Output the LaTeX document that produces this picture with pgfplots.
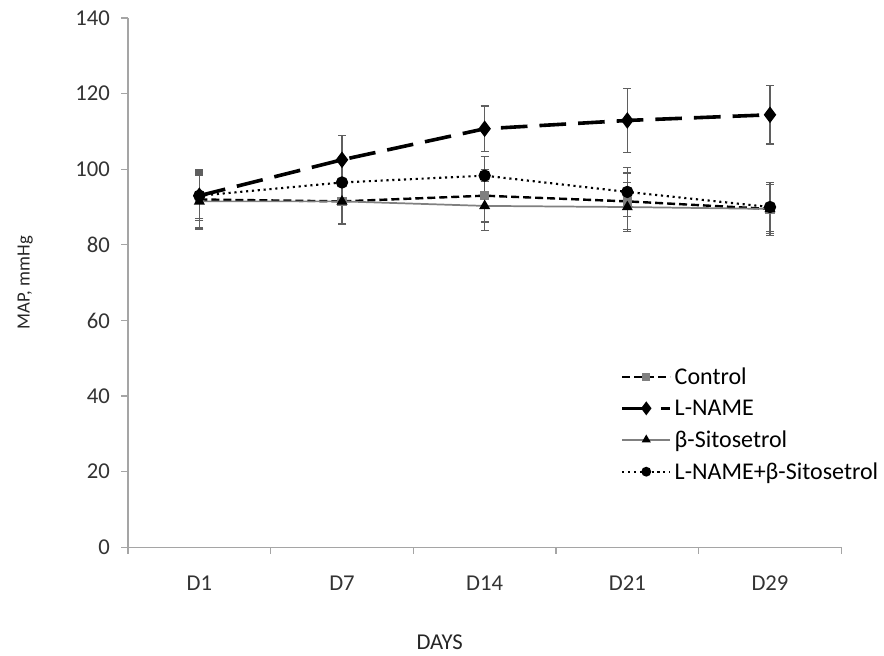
\documentclass[border=0pt]{standalone}
\usepackage{fontspec}
\setmainfont{Carlito}
\usepackage{pgfplots}
\pgfplotsset{compat=1.18}

\definecolor{axgray}{RGB}{165,165,165}
\definecolor{ctrlgray}{RGB}{128,128,128}
\definecolor{errgray}{RGB}{95,95,95}

\begin{document}
\begin{tikzpicture}[x=1pt,y=1pt]
\begin{axis}[
  scale only axis,
  width=535pt, height=397pt,
  xmin=-0.5, xmax=4.5,
  ymin=0, ymax=140,
  ytick={0,20,...,140},
  xtick={0,1,2,3,4},
  xticklabels={D1,D7,D14,D21,D29},
  major x tick style={draw=none},
  minor xtick={-0.5,0.5,1.5,2.5,3.5,4.5},
  minor tick length=5pt,
  major tick length=5pt,
  tick align=outside,
  axis lines*=left,
  axis line style={axgray, line width=0.9pt},
  every tick/.style={axgray, line width=0.9pt},
  tick label style={font=\fontsize{17}{20}\selectfont, text=black!80},
  /pgf/number format/assume math mode=true,
  xticklabel style={anchor=center, inner sep=0pt},
  xticklabel shift=22pt,
  yticklabel style={xshift=-5pt},
  xlabel={DAYS},
  ylabel={MAP, mmHg},
  xlabel style={at={(axis description cs:0.437,-0.179)}, anchor=center,
    font=\fontsize{17}{20}\selectfont, text=black!85},
  ylabel style={at={(axis description cs:-0.144,0.5)}, anchor=center,
    font=\fontsize{14}{17}\selectfont, text=black!85},
  legend style={draw=none, fill=none, at={(0.69,0.345)}, anchor=north west,
    inner sep=0pt,
    font=\fontsize{18}{21}\selectfont, row sep=6pt,
    /tikz/every even column/.append style={column sep=0pt}},
  legend cell align=left,
  legend image code/.code={\draw[mark repeat=2,mark phase=2,
      every mark/.append style={scale=0.75}]
    plot coordinates {(0pt,0pt) (18pt,0pt) (36pt,0pt)};},
  error bars/y dir=both, error bars/y explicit,
  error bars/error bar style={errgray, line width=0.8pt, solid},
  error bars/error mark options={rotate=90, mark size=3pt, errgray, line width=1pt, solid},
  clip=false,
]
% Control
\addplot[black, dash pattern=on 6pt off 3pt, line width=1.8pt,
  mark=square*, mark size=2.6pt, mark options={solid, fill=ctrlgray, draw=ctrlgray}]
  coordinates {(0,92.0) +- (0,8.0) (1,91.5) +- (0,6.0) (2,93.0) +- (0,7.0) (3,91.5) +- (0,7.5) (4,89.5) +- (0,6.5)};
\addlegendentry{Control}
% L-NAME
\addplot[black, dash pattern=on 20pt off 9pt, line width=2.7pt,
  mark=diamond*, mark size=4pt, mark options={solid, fill=black}]
  coordinates {(0,93.0) +- (0,6.0) (1,102.5) +- (0,6.5) (2,110.7) +- (0,6.0) (3,112.9) +- (0,8.5) (4,114.4) +- (0,7.7)};
\addlegendentry{L-NAME}
% beta-Sitosetrol
\addplot[ctrlgray, solid, line width=1.3pt,
  mark=triangle*, mark size=3.5pt, mark options={solid, fill=black, draw=black}]
  coordinates {(0,91.5) +- (0,7.0) (1,91.5) +- (0,6.0) (2,90.3) +- (0,6.5) (3,90.0) +- (0,6.5) (4,89.5) +- (0,7.0)};
\addlegendentry{β-Sitosetrol}
% L-NAME+beta-Sitosetrol
\addplot[black, dash pattern=on 1.6pt off 2.8pt, line width=1.6pt,
  mark=*, mark size=3.8pt, mark options={solid, fill=black}]
  coordinates {(0,93.0) +- (0,6.5) (1,96.5) +- (0,5.5) (2,98.3) +- (0,5.0) (3,94.0) +- (0,6.5) (4,90.0) +- (0,6.5)};
\addlegendentry{L-NAME+β-Sitosetrol}
\end{axis}
\pgfresetboundingbox
\useasboundingbox (-96pt,-81pt) rectangle (567pt,410.5pt);
\end{tikzpicture}
\end{document}
